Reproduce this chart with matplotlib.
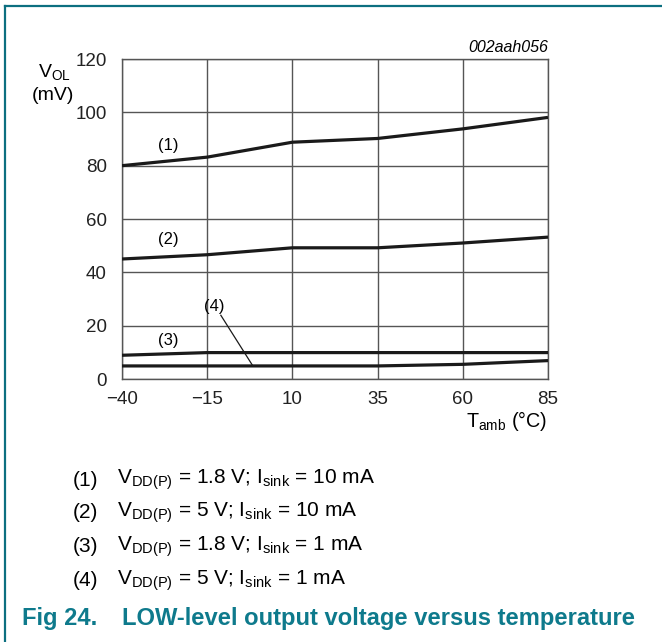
import matplotlib
matplotlib.use("Agg")
import matplotlib.pyplot as plt
from matplotlib.lines import Line2D

plt.rcParams['font.family'] = ['Liberation Sans', 'DejaVu Sans']
plt.rcParams['mathtext.fontset'] = 'custom'
plt.rcParams['mathtext.rm'] = 'Liberation Sans'
plt.rcParams['mathtext.it'] = 'Liberation Sans:italic'

# data
temps = [-40, -15, 10, 35, 60, 85]
curve1 = [80, 83.2, 88.8, 90.2, 93.8, 98.1]
curve2 = [45, 46.6, 49.2, 49.2, 51.0, 53.2]
curve3 = [8.9, 9.9, 9.9, 9.9, 9.9, 9.9]
curve4 = [4.9, 4.9, 4.9, 4.9, 5.5, 6.9]
yticks = [0, 20, 40, 60, 80, 100, 120]

legend_lines = [
    r'$\mathregular{V_{DD(P)}}$ = 1.8 V; $\mathregular{I_{sink}}$ = 10 mA',
    r'$\mathregular{V_{DD(P)}}$ = 5 V; $\mathregular{I_{sink}}$ = 10 mA',
    r'$\mathregular{V_{DD(P)}}$ = 1.8 V; $\mathregular{I_{sink}}$ = 1 mA',
    r'$\mathregular{V_{DD(P)}}$ = 5 V; $\mathregular{I_{sink}}$ = 1 mA',
]

W, H = 662, 642
fig = plt.figure(figsize=(W / 100, H / 100), dpi=100)
ax = fig.add_axes([122 / W, 1 - 379 / H, 426 / W, 320 / H])

grid_col = '#555555'
for c in [curve1, curve2, curve3, curve4]:
    ax.plot(temps, c, color='#1a1a1a', lw=2.3, solid_capstyle='butt', zorder=3)

ax.set_xlim(-40, 85)
ax.set_ylim(0, 120)
ax.set_xticks(temps)
ax.set_yticks(yticks)
ax.grid(True, color=grid_col, lw=1.0)
ax.tick_params(length=0, labelsize=13.5, pad=9, colors='#222222')
ax.tick_params(axis='y', pad=11)
for s in ax.spines.values():
    s.set_color(grid_col)
    s.set_linewidth(1.0)

# curve labels
ax.text(-26.5, 87.5, '(1)', fontsize=12, ha='center', va='center')
ax.text(-26.5, 52.3, '(2)', fontsize=12, ha='center', va='center')
ax.text(-26.5, 14.6, '(3)', fontsize=12, ha='center', va='center')
ax.text(-13, 27.3, '(4)', fontsize=12, ha='center', va='center')
ax.plot([-11, -1.6], [23.9, 4.9], color='#1a1a1a', lw=0.9, zorder=4)

# axis labels
fig.text(54 / W, 1 - 72 / H, r'$\mathregular{V_{OL}}$', fontsize=14, ha='center', va='center')
fig.text(53 / W, 1 - 95 / H, '(mV)', fontsize=14, ha='center', va='center')
fig.text(547 / W, 1 - 421 / H, r'$\mathregular{T_{amb}}$ (°C)', fontsize=14.2, ha='right', va='center')
fig.text(548 / W, 1 - 47 / H, '002aah056', fontsize=11.5, style='italic', ha='right', va='center')

# legend block
ys = [480, 513, 547, 581]
for i, (y, txt) in enumerate(zip(ys, legend_lines)):
    fig.text(73 / W, 1 - y / H, '(%d)' % (i + 1), fontsize=15, ha='left', va='center')
    fig.text(117 / W, 1 - y / H, txt, fontsize=15, ha='left', va='center')

teal = '#0e7a8c'
fig.text(22 / W, 1 - 619 / H, 'Fig 24.', fontsize=17.1, fontweight='bold', color=teal, ha='left', va='center')
fig.text(122 / W, 1 - 619 / H, 'LOW-level output voltage versus temperature', fontsize=17.1,
         fontweight='bold', color=teal, ha='left', va='center')

# frame
frame = '#0c6f80'
fig.add_artist(Line2D([4.5 / W, 4.5 / W], [0, 1 - 5.5 / H], color=frame, lw=1.6, transform=fig.transFigure))
fig.add_artist(Line2D([4.5 / W, 1], [1 - 5.5 / H, 1 - 5.5 / H], color=frame, lw=1.6, transform=fig.transFigure))

fig.savefig('out.png', dpi=100)
